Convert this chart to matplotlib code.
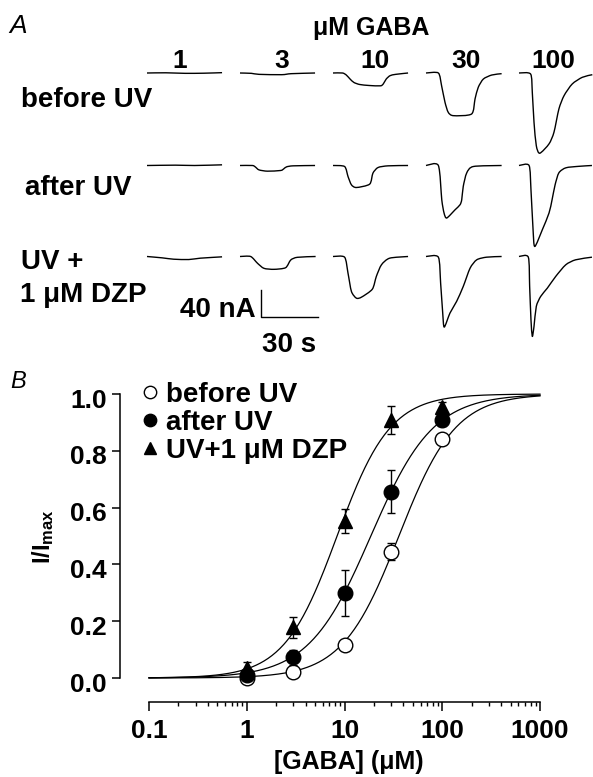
import matplotlib
matplotlib.use("Agg")
import matplotlib.pyplot as plt
import matplotlib.transforms as mtransforms
from matplotlib.path import Path
from matplotlib.patches import PathPatch
import numpy as np

W, H = 593, 777

# ----------------------------- data -----------------------------------

CONCS = [1, 3, 10, 30, 100]
CONC_LABELS = ["1", "3", "10", "30", "100"]

# panel B: normalised peak current (mean, s.e.m.)
BEFORE_MEAN = [0.0, 0.02, 0.115, 0.445, 0.84]
BEFORE_ERR = [0.005, 0.008, 0.012, 0.03, 0.012]
AFTER_MEAN = [0.012, 0.073, 0.30, 0.656, 0.908]
AFTER_ERR = [0.01, 0.026, 0.082, 0.075, 0.02]
DZP_MEAN = [0.034, 0.178, 0.553, 0.908, 0.953]
DZP_ERR = [0.022, 0.037, 0.042, 0.05, 0.02]

# Hill fit parameters (EC50 in uM, Hill coefficient)
EC50 = [36.0, 18.6, 8.4]
HILL_N = [1.5, 1.36, 1.6]

# panel A: current traces, (time s, current nA) from trace onset
BEFORE_UV_TRACES = [
    [(0, 0), (10, 0.3), (20, -0.5), (30, -0.3), (39.5, 0.5)],
    [(0, 0), (6, -0.5), (10, -2), (22, -2.5), (27, -1), (39.5, 0)],
    [(0, 0), (5, 0), (7, -3), (9, -9), (11, -14), (14, -17), (19, -18.5),
     (25, -19), (26.5, -16), (28, -9), (30, -4), (33, -2), (39.5, 0)],
    [(0, 0), (6.5, 0), (8.2, -18.8), (10, -43.4), (11.7, -58.2), (14.4, -63.2),
     (24, -60.7), (25.8, -38.5), (27.5, -21.2), (30.2, -8.9), (34.6, -3), (39.8, -1)],
    [(0, 0), (6.1, -1.5), (7, -28.6), (7.9, -73), (9.1, -107.6), (10.9, -118.9),
     (15.8, -105), (18.4, -87.8), (21, -53.3), (23.7, -33.6), (28, -16.3),
     (33.3, -6.4), (38.6, -2.5)],
]
AFTER_UV_TRACES = [
    [(0, 0), (15, 0.5), (25, 0), (39.5, 1)],
    [(0, 0), (6.5, 0), (8, -2), (10, -6.5), (14.4, -8.4), (21.4, -7.4),
     (23, -5), (24.5, -2), (28, -0.5), (39.5, 0)],
    [(0, 0), (6.1, -1.5), (7.9, -16.3), (9.7, -28.6), (12.3, -32.6), (19.3, -27.6),
     (21, -11.4), (23.7, -3), (29, -0.5), (39.5, 0)],
    [(0, 0), (6.5, 0), (8.3, -50.8), (9.5, -70.4), (10.9, -77.8), (15.3, -65.6),
     (17.9, -58.2), (18.8, -50.8), (19.6, -31.1), (21.4, -11.2), (24.9, -1.5),
     (39.8, 0)],
    [(0, 0), (5.3, 0), (6.3, -36), (7.4, -95), (8.3, -120), (12.3, -95),
     (15.8, -70.4), (17.4, -50.8), (19, -28.6), (21, -10.8), (24.7, -3.4),
     (31.6, -1.2), (38.4, 0)],
]
DZP_TRACES = [
    [(0, 0), (8, -2), (14, -4), (22, -4.5), (28, -2.5), (39.5, -0.5)],
    [(0, 0), (5.6, 0), (9.2, -10), (12.6, -17.5), (17.9, -19), (24, -16.6),
     (26.7, -5.2), (30.2, -1.2), (39.8, 0)],
    [(0, 0), (6.1, -1), (7.9, -24.7), (9.7, -51.8), (12.3, -61.7), (15, -60.2),
     (20.7, -48.4), (22.8, -29.6), (25.5, -12.3), (29.8, -2.5), (39.5, 0)],
    [(0, 0), (6.5, -1), (7.7, -39.5), (8.8, -83.9), (9.6, -104.6), (12.6, -83.9),
     (16.1, -66.6), (19.6, -44.4), (23.2, -17.3), (26.7, -4.9), (31.9, -1),
     (39.8, 0)],
    [(0, 0), (4.9, -1), (5.6, -44), (6.3, -93.7), (7, -118.4), (7.9, -103.6),
     (9.1, -74), (11.4, -59.2), (14.9, -46.9), (19.3, -29.6), (24.6, -12.3),
     (29.8, -4.9), (38.4, -1)],
]
SCALE_NA = 40
SCALE_S = 30

# ----------------------------- style -----------------------------------

plt.rcParams["font.family"] = ["Liberation Sans", "DejaVu Sans"]
plt.rcParams["font.weight"] = "bold"
plt.rcParams["mathtext.fontset"] = "custom"
plt.rcParams["mathtext.bf"] = "Liberation Sans:bold"
plt.rcParams["mathtext.rm"] = "Liberation Sans:bold"
plt.rcParams["mathtext.it"] = "Liberation Sans:bold"


def fp(x, y):
    """pixel position (from top-left) -> figure fraction"""
    return x / W, 1 - y / H


def smooth_path(x, y, k=1 / 8):
    # Catmull-Rom style bezier through the read points (rendering only)
    pts = np.column_stack([x, y])
    verts = [pts[0]]
    codes = [Path.MOVETO]
    n = len(pts)
    for i in range(n - 1):
        p0 = pts[max(i - 1, 0)]
        p1, p2 = pts[i], pts[i + 1]
        p3 = pts[min(i + 2, n - 1)]
        verts += [p1 + (p2 - p0) * k, p2 - (p3 - p1) * k, p2]
        codes += [Path.CURVE4] * 3
    return Path(verts, codes)


fig = plt.figure(figsize=(W / 100, H / 100), dpi=100)

# ----------------------------- panel A -----------------------------------
PX_PER_S = 1.9
PX_PER_NA = 0.675
A_H = 370
axa = fig.add_axes([0, 1 - A_H / H, 1, A_H / H])
axa.set_xlim(0, W / PX_PER_S)
axa.set_ylim(-A_H / PX_PER_NA, 0)
axa.axis("off")

col_x0 = [(147 + 93 * j) / PX_PER_S for j in range(5)]
row_y0 = [-py / PX_PER_NA for py in (73, 165.5, 256.5)]
for r, traces in enumerate([BEFORE_UV_TRACES, AFTER_UV_TRACES, DZP_TRACES]):
    for j, tr in enumerate(traces):
        t = np.array([p[0] for p in tr], dtype=float)
        cur = np.array([p[1] for p in tr], dtype=float)
        axa.add_patch(PathPatch(smooth_path(col_x0[j] + t, row_y0[r] + cur),
                                fill=False, edgecolor="k", lw=1.0,
                                joinstyle="round", clip_on=False))

# scale bar
t0, i0 = 261 / PX_PER_S, -316.7 / PX_PER_NA
axa.plot([t0, t0, t0 + SCALE_S], [i0 + SCALE_NA, i0, i0], color="k", lw=1.0)

fig.text(*fp(9, 33), "A", fontsize=19, fontstyle="italic", fontweight="normal")
fig.text(*fp(371, 35), "μM GABA", fontsize=18, ha="center", va="baseline")
for j, lab in enumerate(CONC_LABELS):
    fig.text(*fp(147 + 93 * j + 37 + [-4, 5, 5, 3, -3][j], 68), lab, fontsize=19,
             ha="center", va="baseline")
fig.text(*fp(21, 106.7), "before UV", fontsize=20, va="baseline")
fig.text(*fp(25, 195), "after UV", fontsize=20, va="baseline")
fig.text(*fp(21, 269.3), "UV +", fontsize=20, va="baseline")
fig.text(*fp(20, 301.7), "1 μM DZP", fontsize=20, va="baseline")
fig.text(*fp(256, 316.7), "40 nA", fontsize=20, ha="right", va="baseline")
fig.text(*fp(289, 351.7), "30 s", fontsize=20, ha="center", va="baseline")

# ----------------------------- panel B -----------------------------------
axb = fig.add_axes([149 / W, 1 - 678 / H, 391 / W, 284 / H])
xfit = np.logspace(-1, 3, 300)
for ec, nh in zip(EC50, HILL_N):
    axb.plot(xfit, 1 / (1 + (ec / xfit) ** nh), color="k", lw=0.9, clip_on=False)

ms = 10.5
h1 = axb.errorbar(CONCS, BEFORE_MEAN, yerr=BEFORE_ERR, fmt="o", ms=ms, mfc="white",
                  mec="k", mew=1.0, ecolor="k", elinewidth=1.0, capsize=3,
                  capthick=1.0, clip_on=False, zorder=3)
h2 = axb.errorbar(CONCS, AFTER_MEAN, yerr=AFTER_ERR, fmt="o", ms=ms, mfc="k",
                  mec="k", ecolor="k", elinewidth=1.0, capsize=3, capthick=1.0,
                  clip_on=False, zorder=4)
h3 = axb.errorbar(CONCS, DZP_MEAN, yerr=DZP_ERR, fmt="^", ms=ms, mfc="k",
                  mec="k", ecolor="k", elinewidth=1.0, capsize=3, capthick=1.0,
                  clip_on=False, zorder=5)

axb.set_xscale("log")
axb.set_xlim(0.1, 1000)
axb.set_ylim(0, 1)
axb.set_xticks([0.1, 1, 10, 100, 1000], ["0.1", "1", "10", "100", "1000"])
axb.set_yticks(np.arange(0, 1.01, 0.2), [f"{v:.1f}" for v in np.arange(0, 1.01, 0.2)])
axb.xaxis.set_minor_locator(matplotlib.ticker.LogLocator(base=10, subs=np.arange(2, 10)))
axb.xaxis.set_minor_formatter(matplotlib.ticker.NullFormatter())
for s in ("top", "right"):
    axb.spines[s].set_visible(False)
axb.spines["left"].set_position(("outward", 21))
axb.spines["bottom"].set_position(("outward", 17))
for s in ("left", "bottom"):
    axb.spines[s].set_linewidth(1.1)
axb.tick_params(axis="both", which="major", direction="out", width=1.1, labelsize=19)
axb.tick_params(axis="y", length=6, pad=3.5)
axb.tick_params(axis="x", which="major", length=6.5, pad=6)
axb.tick_params(axis="x", which="minor", length=3.2, width=1.0)
off = mtransforms.ScaledTranslation(0, -4 / 100, fig.dpi_scale_trans)
for lab in axb.get_yticklabels():
    lab.set_transform(lab.get_transform() + off)

fig.text(*fp(10, 388), "B", fontsize=17, fontstyle="italic", fontweight="normal")
fig.text(*fp(43, 537), r"$\mathbf{I/I_{max}}$", fontsize=17, rotation=90,
         ha="center", va="center")
fig.text(*fp(349, 762), "[GABA] (μM)", fontsize=18, ha="center", va="center")

axb.legend([h1[0], h2[0], h3[0]], ["before UV", "after UV", "UV+1 μM DZP"],
           loc="upper left", bbox_to_anchor=fp(141.7, 382),
           bbox_transform=fig.transFigure, frameon=False, fontsize=20,
           handlelength=0.6, handletextpad=0.27, labelspacing=0.07,
           borderpad=0, borderaxespad=0, markerscale=0.85)

fig.savefig("out.png", dpi=100)
